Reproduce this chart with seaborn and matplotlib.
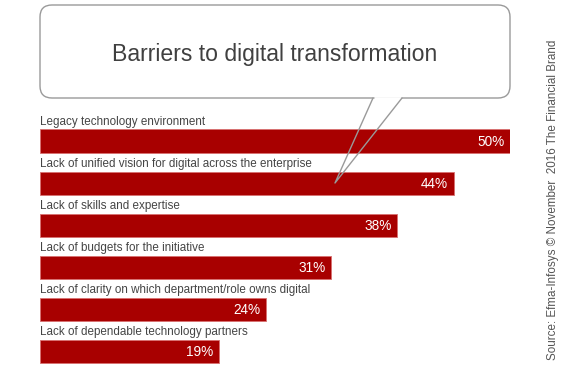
import matplotlib
matplotlib.use("Agg")
import matplotlib.pyplot as plt
import seaborn as sns
import pandas as pd
from matplotlib.patches import FancyBboxPatch

# data
barriers = [
    "Legacy technology environment",
    "Lack of unified vision for digital across the enterprise",
    "Lack of skills and expertise",
    "Lack of budgets for the initiative",
    "Lack of clarity on which department/role owns digital",
    "Lack of dependable technology partners",
]
shares = [50, 44, 38, 31, 24, 19]

title = "Barriers to digital transformation"
source = "Source: Efma-Infosys \u00a9 November  2016 The Financial Brand"

BAR_RED = "#a80000"
TEXT_GREY = "#454545"

sns.set_style("white")
plt.rcParams["font.family"] = ["Liberation Sans", "DejaVu Sans"]

W, H = 565, 372
fig = plt.figure(figsize=(W / 100, H / 100), dpi=100)

# bar axes: x 0..50 spans pixels 40..510, rows 42 px apart
ax = fig.add_axes([40 / W, 0, 470 / W, 252 / H])
ax.set_zorder(1)
df = pd.DataFrame({"Barrier": barriers, "Share": shares})
sns.barplot(data=df, x="Share", y="Barrier", orient="h", color=BAR_RED,
            saturation=1, width=0.55, edgecolor="#d87070", linewidth=0.6, ax=ax)
ax.set_xlim(0, 50)
ax.set_ylim(5.49, -0.5)
ax.axis("off")

for i, (lab, val) in enumerate(zip(barriers, shares)):
    ax.text(0.05, i - 0.39, lab, ha="left", va="baseline", fontsize=8.4,
            color=TEXT_GREY)
    ax.annotate(f"{val}%", xy=(val, i), xytext=(-4, -0.5),
                textcoords="offset points", ha="right", va="center",
                fontsize=9.8, color="white")

# overlay in pixel units for the speech bubble and side text
ov = fig.add_axes([0, 0, 1, 1])
ov.set_zorder(3)
ov.patch.set_alpha(0)
ov.set_xlim(0, W)
ov.set_ylim(H, 0)
ov.axis("off")

bubble = FancyBboxPatch((40, 5), 470, 93, boxstyle="round,pad=0,rounding_size=12",
                        facecolor="white", edgecolor="#9a9a9a", linewidth=1.0)
ov.add_patch(bubble)
ov.plot([374, 401], [98, 98], color="white", lw=2, solid_capstyle="butt")
ov.plot([373, 335, 402], [98, 183, 98], color="#9a9a9a", lw=1.0)

ov.text(275, 61, title, ha="center", va="baseline", fontsize=16.6,
        color="#404040")
ov.text(553, 200, source, ha="center", va="center", rotation=90,
        fontsize=8.4, color="#555555")

fig.savefig("out.png", dpi=100)
